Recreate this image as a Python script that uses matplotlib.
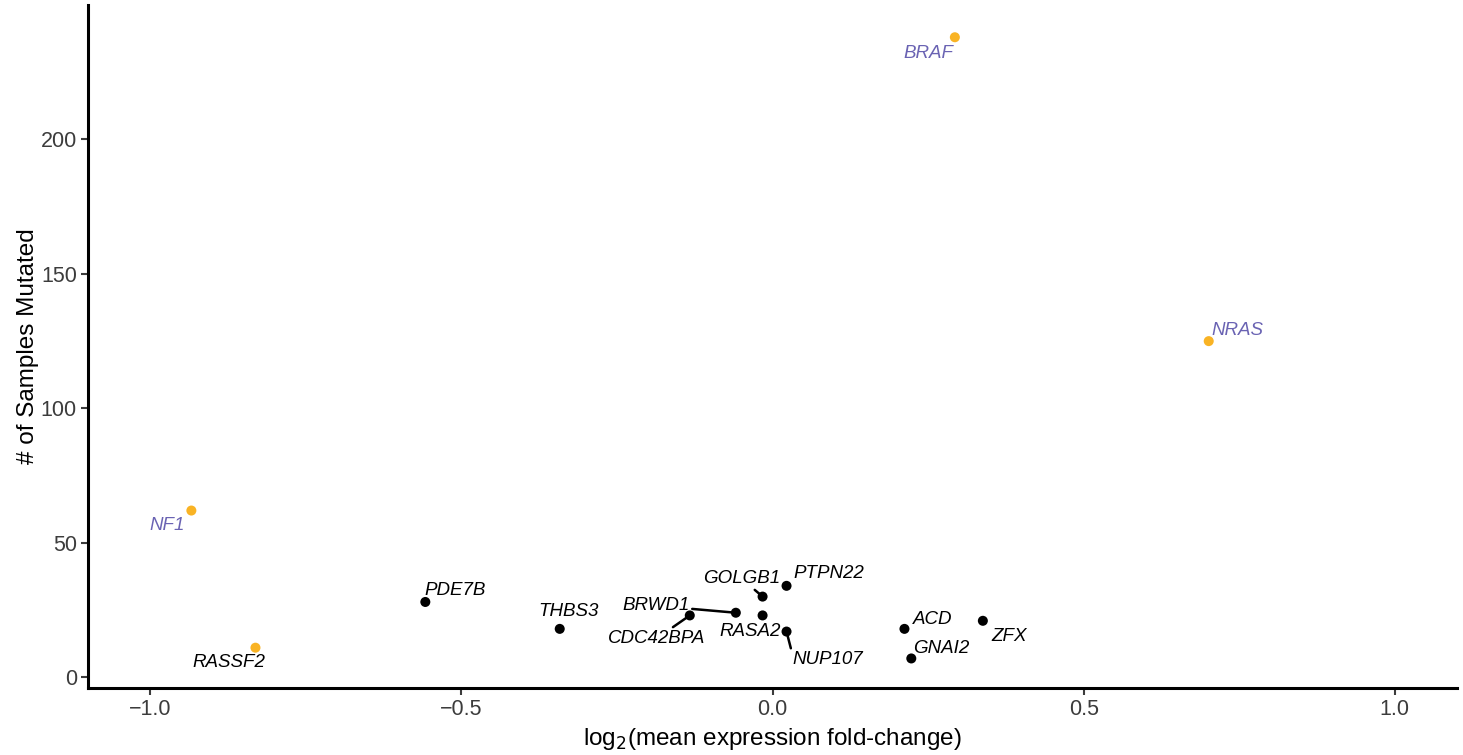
import matplotlib
matplotlib.use("Agg")
import matplotlib.pyplot as plt

genes = ["BRAF", "NRAS", "NF1", "RASSF2", "PDE7B", "THBS3", "CDC42BPA", "BRWD1",
         "GOLGB1", "RASA2", "PTPN22", "NUP107", "ACD", "GNAI2", "ZFX"]
log2_fc = [0.293, 0.701, -0.934, -0.831, -0.558, -0.342, -0.133, -0.059,
           -0.016, -0.016, 0.0225, 0.0225, 0.212, 0.223, 0.338]
n_mutated = [238, 125, 62, 11, 28, 18, 23, 24, 30, 23, 34, 17, 18, 7, 21]
orange_points = ["BRAF", "NRAS", "NF1", "RASSF2"]
purple_labels = ["BRAF", "NRAS", "NF1"]

# label offsets in pixels (dx right, dy down), ggrepel-style placement
offsets = {
    "BRAF": (-26, 16), "NRAS": (29, -11), "NF1": (-24, 15), "RASSF2": (-27, 15),
    "PDE7B": (30, -11), "THBS3": (9, -17), "CDC42BPA": (-33, 23), "BRWD1": (-80, -7),
    "GOLGB1": (-21, -18), "RASA2": (-12, 16), "PTPN22": (42, -12), "NUP107": (41, 28),
    "ACD": (28, -9), "GNAI2": (30, -10), "ZFX": (26, 16),
}
# segment start on the label box (relpos); labels not listed get no segment
segments = {"CDC42BPA": (0.5, 0.5), "BRWD1": (0.5, 0.5),
            "GOLGB1": (0.5, 0.5), "NUP107": (0.0, 0.85)}

ORANGE = "#F9B324"
PURPLE = "#6A63B3"
GREY = "#3c3c3c"

plt.rcParams["font.family"] = ["Liberation Sans", "DejaVu Sans"]

fig = plt.figure(figsize=(14.63, 7.55), dpi=100)
ax = fig.add_axes([0.0602, 0.0887, 0.9357, 0.9047])

colors = [ORANGE if g in orange_points else "black" for g in genes]
ax.scatter(log2_fc, n_mutated, s=52, c=colors, linewidths=0, zorder=3)

px = 72 / 100  # pixels -> points
for g, x, y in zip(genes, log2_fc, n_mutated):
    dx, dy = offsets[g]
    tcol = PURPLE if g in purple_labels else "black"
    arrow = None
    if g in segments:
        arrow = dict(arrowstyle="-", color="black", lw=1.8, shrinkA=0, shrinkB=3,
                     relpos=segments[g])
    ax.annotate(g, xy=(x, y), xytext=(dx * px, -dy * px), textcoords="offset points",
                ha="center", va="center", fontsize=13.5, fontstyle="italic",
                color=tcol, arrowprops=arrow, zorder=4)

ax.set_xlim(-1.1, 1.1)
ax.set_ylim(-4.0, 250)
ax.set_xticks([-1.0, -0.5, 0.0, 0.5, 1.0])
ax.set_xticklabels(["\u22121.0", "\u22120.5", "0.0", "0.5", "1.0"])
ax.set_yticks([0, 50, 100, 150, 200])

for s in ["top", "right"]:
    ax.spines[s].set_visible(False)
for s in ["left", "bottom"]:
    ax.spines[s].set_linewidth(2.2)
ax.tick_params(axis="both", direction="out", length=5, width=1.5,
               labelsize=15.5, labelcolor=GREY, color=GREY, pad=3)

ax.set_xlabel("log$_2$(mean expression fold-change)", fontsize=17.5, labelpad=4)
ax.set_ylabel("# of Samples Mutated", fontsize=17.5, labelpad=1)

fig.savefig("out.png", dpi=100)
